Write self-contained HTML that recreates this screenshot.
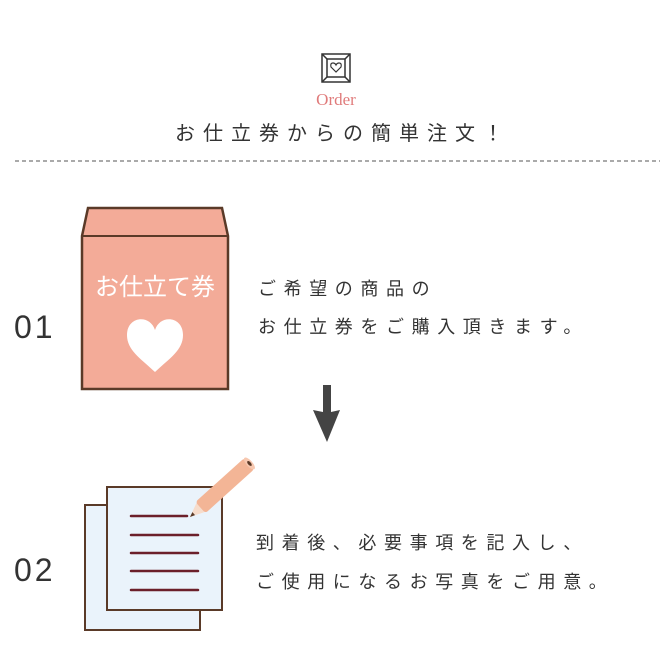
<!DOCTYPE html>
<html><head><meta charset="utf-8"><style>
body{margin:0;width:670px;height:670px;background:#fff;position:relative;overflow:hidden;font-family:"Liberation Sans","Noto Sans CJK JP",sans-serif;color:#333}
.a{position:absolute;white-space:nowrap}
</style></head><body>
<svg class="a" style="left:0;top:0" width="670" height="670">
<g stroke="#333" fill="none" stroke-width="1.5">
<rect x="322" y="54" width="28" height="28"/><rect x="327" y="59" width="18" height="18"/>
<line x1="322" y1="54" x2="327" y2="59"/><line x1="350" y1="54" x2="345" y2="59"/><line x1="322" y1="82" x2="327" y2="77"/><line x1="350" y1="82" x2="345" y2="77"/>
<path d="M336 72 L331 67 Q330 63 333 63 Q335 63 336 65 Q337 63 339 63 Q342 63 341 67 Z" stroke-width="1.2"/>
</g>
<line x1="15" y1="161" x2="660" y2="161" stroke="#555" stroke-dasharray="4,3" stroke-width="1"/>
<path d="M88 208 L222 208 L228 236 L228 389 L82 389 L82 236 Z" fill="#f3ab98" stroke="#5a3a28" stroke-width="2.5"/>
<line x1="82" y1="236" x2="228" y2="236" stroke="#5a3a28" stroke-width="2"/>
<path d="M155 372 C140 358 127 350 127 335 C127 316 150 314 155 330 C160 314 183 316 183 335 C183 350 170 358 155 372 Z" fill="#fff"/>
<path d="M323 385 L331 385 L331 412 L340 410 L327 442 L313 410 L323 412 Z" fill="#444"/>
<rect x="85" y="505" width="115" height="125" fill="#eaf3fb" stroke="#5a3a28" stroke-width="2"/>
<rect x="107" y="487" width="115" height="123" fill="#eaf3fb" stroke="#5a3a28" stroke-width="2"/>
<g stroke="#6b1f2a" stroke-width="2.5" stroke-linecap="round">
<line x1="131" y1="516" x2="187" y2="516"/><line x1="131" y1="535" x2="198" y2="535"/><line x1="131" y1="553" x2="198" y2="553"/><line x1="131" y1="571" x2="198" y2="571"/><line x1="131" y1="590" x2="198" y2="590"/>
</g>
<g transform="translate(190,517) rotate(-42)">
<path d="M0 0 L14 -6 L14 6 Z" fill="#f7dccb"/>
<rect x="14" y="-7.5" width="66" height="15" rx="3" fill="#f3b596"/>
<ellipse cx="80" cy="0" rx="3" ry="7.5" fill="#f7c8b0"/>
<ellipse cx="80" cy="0" rx="1.5" ry="3" fill="#5a3a28"/>
<path d="M0 0 L5 -2 L5 2 Z" fill="#5a3a28"/>
</g>
</svg>
<div class="a" style="left:0;width:672px;text-align:center;top:90px;font-family:'Liberation Serif',serif;font-size:17px;color:#e07b7b">Order</div>
<div class="a" style="left:175px;top:117px;font-size:20px;letter-spacing:8px">お仕立券からの簡単注文！</div>
<div class="a" style="left:82px;width:146px;text-align:center;top:267px;font-size:24px;color:#fff">お仕立て券</div>
<div class="a" style="left:14px;top:309px;font-size:32px;font-weight:300;letter-spacing:3px;color:#333">01</div>
<div class="a" style="left:14px;top:552px;font-size:32px;letter-spacing:3px;color:#333">02</div>
<div class="a" style="left:258px;top:270px;font-size:18px;letter-spacing:7.6px;line-height:38px">ご希望の商品の<br>お仕立券をご購入頂きます。</div>
<div class="a" style="left:256px;top:524px;font-size:18px;letter-spacing:7.6px;line-height:39px">到着後、必要事項を記入し、<br>ご使用になるお写真をご用意。</div>
</body></html>
